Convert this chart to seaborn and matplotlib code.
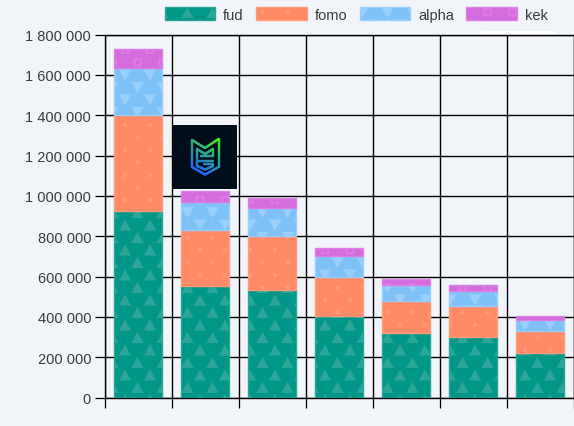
import numpy as np
import pandas as pd
import matplotlib
matplotlib.use("Agg")
import matplotlib.pyplot as plt
import matplotlib.hatch as mhatch
from matplotlib.path import Path
from matplotlib.patches import Patch, Rectangle
from matplotlib.collections import LineCollection
from matplotlib.ticker import FuncFormatter
import seaborn as sns

ranks = ["1", "2", "3", "4", "5", "6", "7"]
fud = [925000, 555000, 535000, 403000, 320000, 300000, 220000]
fomo = [475000, 275000, 265000, 197000, 158000, 152000, 110000]
alpha = [234000, 140000, 140000, 100000, 80000, 75000, 55000]
kek = [93000, 54000, 50000, 40000, 29000, 31000, 18000]
names = ["fud", "fomo", "alpha", "kek"]
y_ticks = [0, 200000, 400000, 600000, 800000, 1000000, 1200000, 1400000, 1600000, 1800000]

BG = "#f1f5fa"
colors = ["#009688", "#ff8a65", "#7fc2f8", "#d56cde"]
lights = ["#2ba597", "#ff9b7a", "#99cffa", "#db7de3"]
patterns = ["A", "a", "V", "S"]


class _Tile(mhatch.HatchPatternBase):
    """Filled shapes on a staggered grid; one tile is one inch."""
    char = ""
    cols = 4
    shape = None

    def __init__(self, hatch, density):
        self.on = self.char in hatch
        self.rows = self.cols * 2
        n = 0
        for r in range(self.rows + 1):
            n += self.cols + 1 if r % 2 == 0 else self.cols
        self.count = n if self.on else 0
        self.num_vertices = self.count * (len(self.shape) + 1)
        self.num_codes = self.num_vertices

    def set_vertices_and_codes(self, vertices, codes):
        if not self.on:
            return
        k = len(self.shape) + 1
        i = 0
        s = np.array(list(self.shape) + [self.shape[0]])
        for r in range(self.rows + 1):
            xs = np.arange(self.cols + 1) / self.cols if r % 2 == 0 else (np.arange(self.cols) + .5) / self.cols
            for x in xs:
                vertices[i:i + k] = s + [x, r / self.rows]
                codes[i:i + k] = [Path.MOVETO] + [Path.LINETO] * (k - 2) + [Path.CLOSEPOLY]
                i += k


class UpTri(_Tile):
    char = "A"
    shape = ((-.06, -.055), (.06, -.055), (0, .055))


class DownTri(_Tile):
    char = "V"
    shape = ((-.06, .055), (.06, .055), (0, -.055))


class Dot(_Tile):
    char = "a"
    shape = ((-.018, -.018), (.018, -.018), (.018, .018), (-.018, .018))


class Ring(_Tile):
    char = "S"
    shape = ((-.04, -.04), (.04, -.04), (.04, .04), (-.04, .04), (-.04, -.04),
             (-.024, -.024), (-.024, .024), (.024, .024), (.024, -.024), (-.024, -.024))


mhatch._hatch_types.extend([UpTri, DownTri, Dot, Ring])
mhatch.validate_hatch = lambda h: None

sns.set_theme(style="white")
plt.rcParams["font.family"] = ["Liberation Sans", "DejaVu Sans"]
plt.rcParams["hatch.linewidth"] = 0.1

W, H = 574, 427
fig = plt.figure(figsize=(W / 100, H / 100), dpi=100, facecolor=BG)
ax = fig.add_axes([104.5 / W, 1 - 398.5 / H, 469 / W, 363 / H], facecolor=BG)

frame = pd.DataFrame({"rank": ranks, "fud": fud, "fomo": fomo, "alpha": alpha, "kek": kek})
bottom = np.zeros(len(ranks))
for name, c, e, p in zip(names, colors, lights, patterns):
    sns.barplot(data=frame, x="rank", y=name, ax=ax, color=c, saturation=1, width=0.716,
                bottom=bottom, edgecolor=e, linewidth=1, hatch=p, zorder=3, errorbar=None)
    bottom = bottom + frame[name].to_numpy()

ax.set_xlim(-0.5, 6.5)
ax.set_ylim(0, 1800000)
ax.set_xticks(np.arange(-0.5, 7, 1))
ax.set_xticklabels([""] * 8)
ax.set_yticks(y_ticks)
ax.yaxis.set_major_formatter(FuncFormatter(lambda v, _: f"{int(v):,}".replace(",", " ")))
ax.set_xlabel("")
ax.set_ylabel("")
ax.grid(True, color="#000000", linewidth=1.0, zorder=1)
ax.set_axisbelow(True)
ax.tick_params(axis="both", length=7.2, width=0.9, color="#000000", left=True, bottom=True, pad=2.5)
ax.tick_params(axis="y", labelsize=10.5, labelcolor="#3a3a3a")
for s in ax.spines.values():
    s.set_color("#000000")
    s.set_linewidth(1.0)

handles = [Patch(facecolor=c, edgecolor=e, hatch=p, linewidth=1) for c, e, p in zip(colors, lights, patterns)]
fig.legend(handles, names, loc="upper left", bbox_to_anchor=(154.5 / W, 1 + 2 / H), ncol=4, frameon=False,
           fontsize=10.5, handlelength=3.45, handleheight=1.0, handletextpad=0.55, columnspacing=0.86,
           labelcolor="#3a3a3a", borderaxespad=0.3, borderpad=0.4)

fig.add_artist(Rectangle((481 / W, 1 - 35 / H), 74 / W, 3 / H, transform=fig.transFigure, facecolor="white", edgecolor="none"))

# Logo badge
logo = fig.add_axes([173 / W, 1 - 190 / H, 64 / W, 64 / H], facecolor="#020d1c", zorder=5)
logo.set_xlim(0, 64)
logo.set_ylim(64, 0)
logo.set_xticks([])
logo.set_yticks([])
for s in logo.spines.values():
    s.set_visible(False)
outline = [(19, 15), (32, 23), (45.5, 14), (45.5, 42), (32, 49.5), (19, 42), (19, 15)]
mark = [(24, 34), (24, 24), (32, 29), (40, 24), (40, 31), (28, 31)]
g = [(40, 36), (24, 36), (24, 41), (32, 44.5), (40, 41), (40, 38.5), (31, 38.5)]
segs, seg_colors = [], []
cmap = matplotlib.colors.LinearSegmentedColormap.from_list("logo", ["#3dff00", "#2aa68c", "#1e60ff"])
for path in (outline, mark, g):
    pts = np.array(path, float)
    for a, b in zip(pts[:-1], pts[1:]):
        for t0, t1 in zip(np.linspace(0, 1, 12)[:-1], np.linspace(0, 1, 12)[1:]):
            p0, p1 = a + (b - a) * t0, a + (b - a) * t1
            segs.append([p0, p1])
            seg_colors.append(cmap((((p0[1] + p1[1]) / 2 - 12) / 38 + (46 - (p0[0] + p1[0]) / 2) / 60) / 1.3))
logo.add_collection(LineCollection(segs, colors=seg_colors, linewidths=1.7, capstyle="round"))

fig.savefig("out.png", dpi=100, facecolor=BG)
